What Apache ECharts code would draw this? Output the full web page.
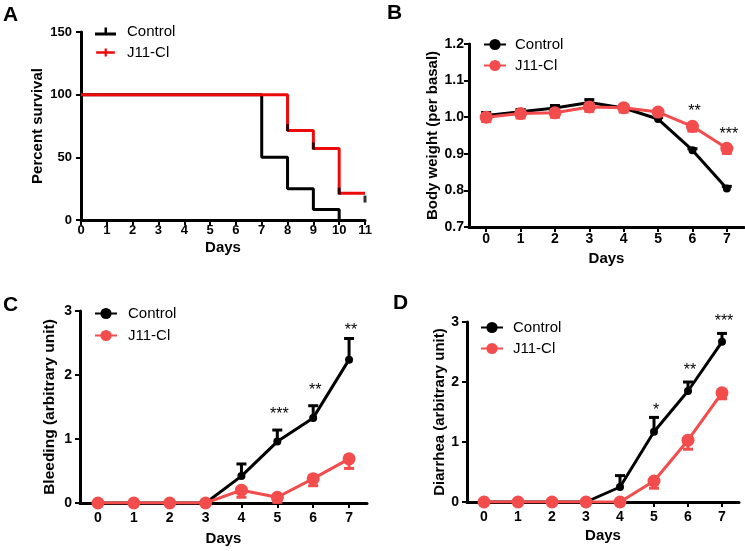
<!DOCTYPE html>
<html><head><meta charset="utf-8">
<script src="https://cdn.jsdelivr.net/npm/echarts@6/dist/echarts.min.js"></script>
<style>html,body{margin:0;padding:0;background:#fff}#c{width:745px;height:551px}</style>
</head><body><div id="c"></div>
<script>
// ---------- Panel A: survival ----------
const survTicksX = [0,1,2,3,4,5,6,7,8,9,10,11];
const survControlDays = [0,7,8,9,10];
const survControlPct  = [100,50,25,8.33,0];
const survJ11Days = [0,8,9,10,11];
const survJ11Pct  = [100,71.4,57.1,21.4,21.4];
const censorJ11Days = [8,9,10,11];
const censorJ11Pct  = [73.7,59,23,16.7];

// ---------- Panels B-D ----------
const days = ['0','1','2','3','4','5','6','7'];

const bwControl    = [1.005,1.015,1.025,1.040,1.025,0.995,0.910,0.805];
const bwControlErr = [0.008,0.006,0.007,0.008,0.005,0.004,0.004,0.006];
const bwJ11        = [1.000,1.010,1.012,1.028,1.026,1.014,0.975,0.915];
const bwJ11Err     = [0.012,0.012,0.012,0.012,0.012,0.010,0.013,0.014];
const bwSig = [[6,1.027,'**'],[7,0.964,'***']];

const blControl    = [0,0,0,0,0.42,0.96,1.33,2.24];
const blControlErr = [0,0,0,0,0.19,0.18,0.19,0.33];
const blJ11        = [0,0,0,0,0.20,0.09,0.38,0.69];
const blJ11Err     = [0,0,0,0,0.11,0.08,0.11,0.15];
const blSig = [[5,1.44,'***'],[6,1.815,'**'],[7,2.75,'**']];

const diControl    = [0,0,0,0,0.25,1.17,1.85,2.67];
const diControlErr = [0,0,0,0,0.19,0.24,0.15,0.14];
const diJ11        = [0,0,0,0,0,0.35,1.03,1.82];
const diJ11Err     = [0,0,0,0,0,0.12,0.15,0.10];
const diSig = [[5,1.59,'*'],[6,2.25,'**'],[7,3.07,'***']];

const FONT = 'Liberation Sans, Arial, Helvetica, sans-serif';
const BLACK = '#000000';
const RED_A = '#ee0a0a';
const RED = '#f24c4c';

const zip = (a,b) => a.map((v,i)=>[v,b[i]]);
const errData = (m,e) => m.map((v,i)=>[i,v,e[i]]);

function errRender(dir, color){
  return function(params, api){
    const x = api.value(0), v = api.value(1), e = api.value(2);
    if(!e) return;
    const p0 = api.coord([x, v]);
    const p1 = api.coord([x, v + dir*e]);
    const cap = 5;
    return {type:'group', children:[
      {type:'line', shape:{x1:p0[0],y1:p0[1],x2:p1[0],y2:p1[1]}, style:{stroke:color, lineWidth:3}},
      {type:'line', shape:{x1:p1[0]-cap,y1:p1[1],x2:p1[0]+cap,y2:p1[1]}, style:{stroke:color, lineWidth:3}}
    ]};
  };
}

function starRender(params, api){
  const p = api.coord([api.value(0), api.value(1)]);
  return {type:'text', x:p[0]+2, y:p[1]+4, style:{text:params.context.txt[params.dataIndex], fill:BLACK, font:'16px '+FONT, align:'center', verticalAlign:'middle'}};
}

const axisLine = {show:true, onZero:false, lineStyle:{color:BLACK, width:3}};
const axisTick = {show:true, length:5, lineStyle:{color:BLACK, width:2}};
const lbl = (size, margin) => ({color:BLACK, fontWeight:'bold', fontSize:size, fontFamily:FONT, margin:margin});
const nameStyle = (size) => ({color:BLACK, fontWeight:'bold', fontSize:size, fontFamily:FONT});

const grids = [
  {left:81, top:32, width:284, height:188},
  {left:469, top:44, width:275, height:183},
  {left:80, top:311, width:287, height:192},
  {left:467, top:322, width:272, height:180}
];

const xAxes = [
  {gridIndex:0, type:'value', min:0, max:11, interval:1, axisLine, axisTick, axisLabel:lbl(13,4), splitLine:{show:false},
   name:'Days', nameLocation:'middle', nameGap:20, nameTextStyle:nameStyle(15)},
  {gridIndex:1, type:'category', data:days, boundaryGap:true, axisLine, axisTick:Object.assign({alignWithLabel:true},axisTick), axisLabel:lbl(14,5),
   name:'Days', nameLocation:'middle', nameGap:24, nameTextStyle:nameStyle(15)},
  {gridIndex:2, type:'category', data:days, boundaryGap:true, axisLine, axisTick:Object.assign({alignWithLabel:true},axisTick), axisLabel:lbl(14,8),
   name:'Days', nameLocation:'middle', nameGap:28, nameTextStyle:nameStyle(15)},
  {gridIndex:3, type:'category', data:days, boundaryGap:true, axisLine, axisTick:Object.assign({alignWithLabel:true},axisTick), axisLabel:lbl(14,8),
   name:'Days', nameLocation:'middle', nameGap:26, nameTextStyle:nameStyle(15)}
];
const yAxes = [
  {gridIndex:0, type:'value', min:0, max:150, interval:50, axisLine, axisTick, axisLabel:lbl(13,9), splitLine:{show:false},
   name:'Percent survival', nameLocation:'middle', nameGap:36, nameTextStyle:nameStyle(15)},
  {gridIndex:1, type:'value', min:0.7, max:1.2, interval:0.1, axisLine, axisTick, axisLabel:Object.assign(lbl(14,5),{formatter:v=>v.toFixed(1)}), splitLine:{show:false},
   name:'Body weight (per basal)', nameLocation:'middle', nameGap:29, nameTextStyle:nameStyle(15)},
  {gridIndex:2, type:'value', min:0, max:3, interval:1, axisLine, axisTick, axisLabel:lbl(14,8), splitLine:{show:false},
   name:'Bleeding (arbitrary unit)', nameLocation:'middle', nameGap:22, nameTextStyle:nameStyle(15.5)},
  {gridIndex:3, type:'value', min:0, max:3, interval:1, axisLine, axisTick, axisLabel:lbl(14,8), splitLine:{show:false},
   name:'Diarrhea (arbitrary unit)', nameLocation:'middle', nameGap:20, nameTextStyle:nameStyle(15)}
];

function meanSeries(name, idx, data, color, size, z){
  return {name, type:'line', xAxisIndex:idx, yAxisIndex:idx, data, symbol:'circle', symbolSize:size,
    itemStyle:{color}, lineStyle:{color, width:3}, z, silent:true, animation:false};
}
function errSeries(idx, data, dir, color, z){
  return {type:'custom', xAxisIndex:idx, yAxisIndex:idx, data, renderItem:errRender(dir,color), z, silent:true, animation:false};
}
function sigSeries(idx, sig){
  const txt = sig.map(s=>s[2]);
  return {type:'custom', xAxisIndex:idx, yAxisIndex:idx, data:sig.map(s=>[s[0],s[1]]), z:10, silent:true, animation:false,
    renderItem:function(params, api){ params.context.txt = txt; return starRender(params, api); }};
}

const series = [
  {name:'Control#A', type:'line', step:'end', xAxisIndex:0, yAxisIndex:0, data:zip(survControlDays,survControlPct),
   symbol:'none', itemStyle:{color:BLACK}, lineStyle:{color:BLACK, width:3}, z:2, animation:false},
  {name:'J11-Cl#A', type:'line', step:'end', xAxisIndex:0, yAxisIndex:0, data:zip(survJ11Days,survJ11Pct),
   symbol:'none', itemStyle:{color:RED_A}, lineStyle:{color:RED_A, width:3}, z:3, animation:false},
  {type:'scatter', xAxisIndex:0, yAxisIndex:0, data:zip(censorJ11Days,censorJ11Pct), symbol:'rect', symbolSize:[3,7],
   itemStyle:{color:BLACK}, z:4, silent:true, animation:false},

  errSeries(1, errData(bwControl,bwControlErr), 1, BLACK, 2),
  meanSeries('Control#B', 1, bwControl, BLACK, 8, 3),
  errSeries(1, errData(bwJ11,bwJ11Err), -1, RED, 4),
  meanSeries('J11-Cl#B', 1, bwJ11, RED, 13, 5),
  sigSeries(1, bwSig),

  errSeries(2, errData(blControl,blControlErr), 1, BLACK, 2),
  meanSeries('Control#C', 2, blControl, BLACK, 8, 3),
  errSeries(2, errData(blJ11,blJ11Err), -1, RED, 4),
  meanSeries('J11-Cl#C', 2, blJ11, RED, 13, 5),
  sigSeries(2, blSig),

  errSeries(3, errData(diControl,diControlErr), 1, BLACK, 2),
  meanSeries('Control#D', 3, diControl, BLACK, 8, 3),
  errSeries(3, errData(diJ11,diJ11Err), -1, RED, 4),
  meanSeries('J11-Cl#D', 3, diJ11, RED, 13, 5),
  sigSeries(3, diSig)
];

const legTxt = {color:BLACK, fontSize:15, fontFamily:FONT};
const legFmt = n => n.split('#')[0];
function legend(names, left, top, extra){
  return Object.assign({orient:'vertical', left, top, itemWidth:22, itemHeight:14, itemGap:6, selectedMode:false,
    textStyle:legTxt, formatter:legFmt, data:names, padding:0}, extra||{});
}

const option = {
  animation:false,
  backgroundColor:'#ffffff',
  title:[
    {text:'A', left:3, top:5, padding:0, textStyle:{fontSize:21, fontWeight:'bold', fontFamily:FONT, color:BLACK}},
    {text:'B', left:387, top:3, padding:0, textStyle:{fontSize:21, fontWeight:'bold', fontFamily:FONT, color:BLACK}},
    {text:'C', left:3, top:295, padding:0, textStyle:{fontSize:21, fontWeight:'bold', fontFamily:FONT, color:BLACK}},
    {text:'D', left:393, top:293, padding:0, textStyle:{fontSize:21, fontWeight:'bold', fontFamily:FONT, color:BLACK}}
  ],
  grid:grids,
  xAxis:xAxes,
  yAxis:yAxes,
  legend:[
    legend([
      {name:'Control#A', icon:'path://M0,5 L21,5 L21,8 L0,8 Z M9.5,0 L12,0 L12,8 L9.5,8 Z'},
      {name:'J11-Cl#A', icon:'path://M0,3 L21,3 L21,6 L0,6 Z M9.5,0 L12,0 L12,9 L9.5,9 Z'}
    ], 95, 24, {itemWidth:21, itemHeight:8, itemGap:6, textStyle:Object.assign({padding:[0,0,0,6]},legTxt)}),
    legend(['Control#B','J11-Cl#B'], 483, 37, {textStyle:Object.assign({padding:[0,0,0,4]},legTxt)}),
    legend(['Control#C','J11-Cl#C'], 94, 306, {itemGap:7, textStyle:Object.assign({padding:[0,0,0,6]},legTxt)}),
    legend(['Control#D','J11-Cl#D'], 480, 320, {textStyle:Object.assign({padding:[0,0,0,5]},legTxt)})
  ],
  series
};

const chart = echarts.init(document.getElementById('c'), null, {renderer:'canvas'});
chart.setOption(option);
</script>
</body></html>
